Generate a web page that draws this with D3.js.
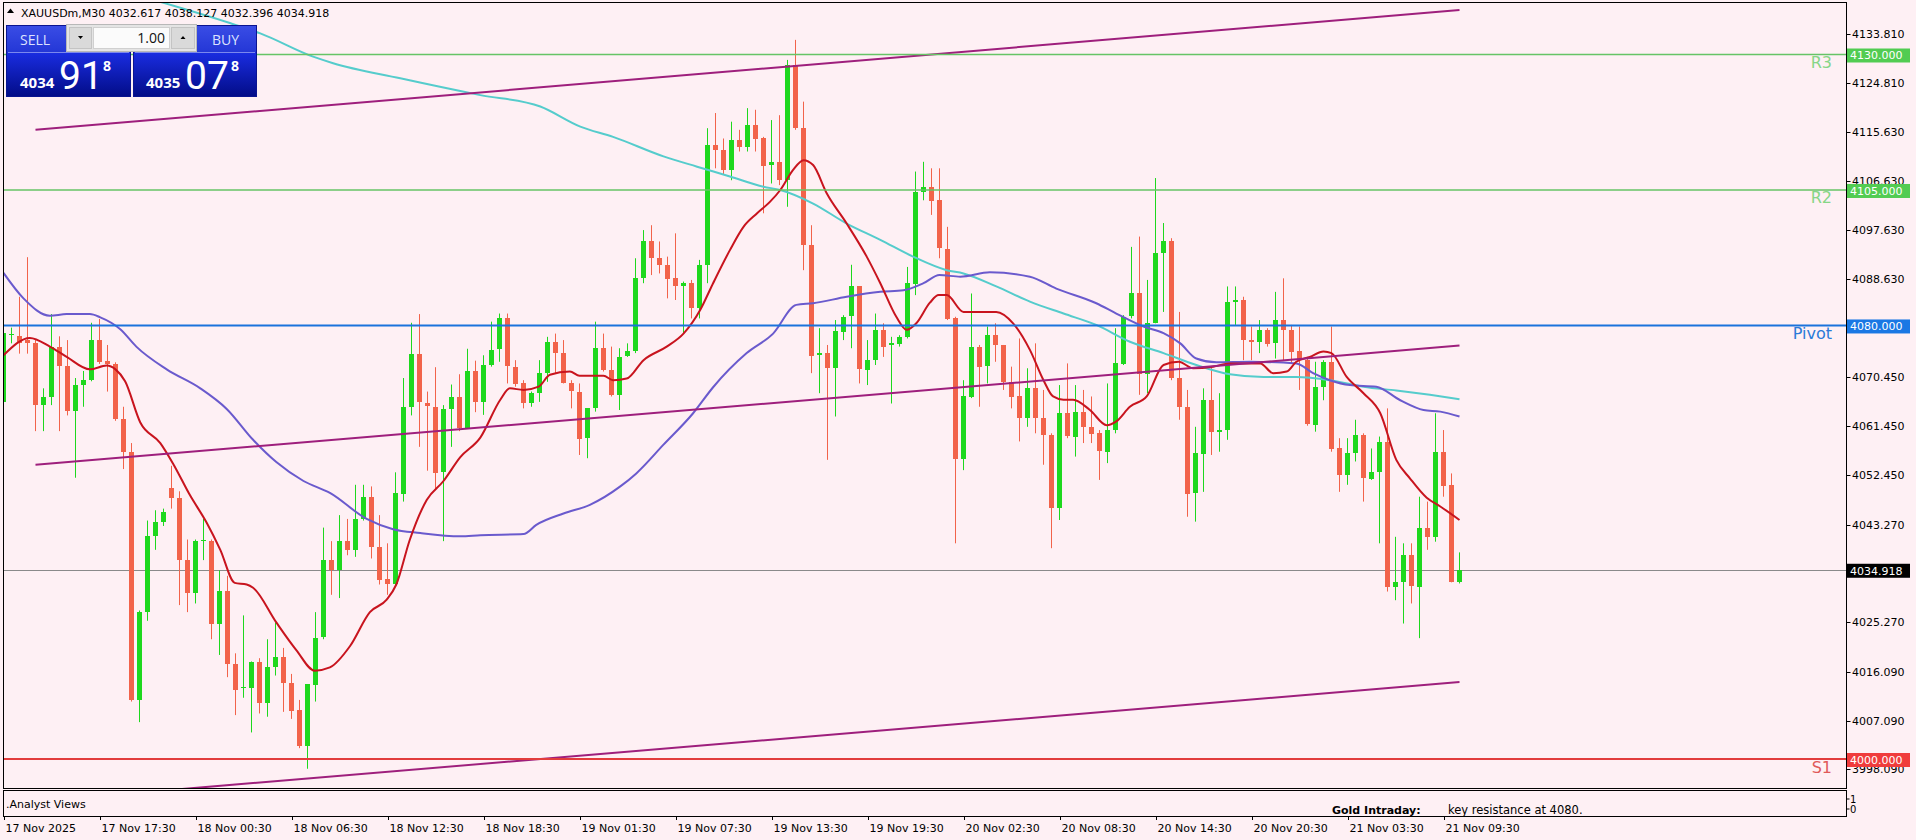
<!DOCTYPE html>
<html><head><meta charset="utf-8">
<script src="https://cdn.jsdelivr.net/npm/d3@7"></script>
<style>
html,body{margin:0;padding:0;background:#fef0f4;overflow:hidden;}
svg{display:block;font-family:"DejaVu Sans",sans-serif;}
</style></head><body>
<svg id="chart" width="1916" height="840"></svg>
<script>
// ---------------- DATA ----------------
const symbol = "XAUUSDm,M30";
const headerOHLC = ["4032.617", "4038.127", "4032.396", "4034.918"];
const opens = [4065.9,4078.3,4078.0,4077.3,4076.7,4065.3,4066.8,4076.1,4072.6,4064.3,4069.1,4070.0,4077.3,4073.5,4072.9,4062.7,4056.7,4010.9,4027.1,4041.1,
4043.7,4050.0,4048.1,4036.7,4030.6,4040.2,4040.2,4024.9,4031.0,4017.6,4013.1,4013.1,4017.9,4010.3,4017.0,4018.9,4014.1,4009.0,4002.4,4013.8,
4022.4,4036.7,4034.8,4040.2,4038.6,4044.3,4048.4,4039.2,4033.2,4032.2,4049.0,4065.0,4074.8,4065.6,4065.0,4052.9,4064.6,4066.8,4061.1,4071.6,
4065.9,4072.7,4075.5,4081.3,4072.4,4069.3,4065.6,4067.5,4071.2,4077.0,4074.9,4069.3,4067.8,4059.2,4064.7,4075.8,4071.8,4067.2,4074.2,4075.2,
4088.7,4095.5,4092.4,4091.2,4088.7,4087.2,4087.8,4083.2,4091.2,4113.3,4112.4,4108.7,4114.2,4113.0,4117.0,4114.5,4109.6,4110.2,4106.8,4128.1,
4116.4,4094.9,4074.5,4074.9,4072.1,4078.9,4081.6,4087.2,4071.8,4073.6,4079.2,4076.4,4076.7,4077.9,4087.8,4104.7,4105.6,4103.1,4094.2,4081.3,
4055.2,4066.9,4076.1,4072.4,4078.2,4076.4,4069.6,4066.9,4062.9,4068.4,4062.9,4059.8,4046.3,4063.8,4059.5,4064.1,4061.3,4060.1,4056.7,4060.7,
4073.0,4081.6,4085.9,4070.9,4080.4,4093.3,4095.5,4070.3,4065.0,4049.0,4056.4,4066.3,4060.4,4060.7,4084.4,4084.7,4077.3,4077.0,4079.2,4076.7,
4081.0,4079.2,4075.2,4073.6,4061.7,4068.7,4073.3,4057.3,4052.4,4056.4,4059.8,4051.8,4053.0,4058.5,4031.8,4032.7,4037.6,4031.8,4042.6,4041.0,
4056.7,4050.5,4032.617];
const highs = [4086.2,4079.6,4085.3,4092.6,4077.3,4068.4,4082.1,4078.0,4077.3,4070.3,4071.6,4080.5,4081.2,4076.4,4073.2,4065.0,4058.3,4027.4,4044.0,4045.9,
4046.2,4054.1,4049.4,4040.5,4040.5,4044.3,4040.5,4034.8,4033.8,4019.5,4026.5,4018.0,4018.6,4022.1,4025.2,4020.5,4015.7,4010.9,4013.8,4027.1,
4042.7,4040.2,4045.0,4044.3,4050.6,4050.6,4050.3,4045.0,4039.8,4052.9,4070.3,4080.5,4082.1,4067.8,4072.3,4065.3,4069.1,4071.0,4075.7,4073.5,
4074.5,4080.7,4082.2,4082.2,4073.6,4069.9,4067.8,4073.6,4077.9,4078.5,4077.3,4069.9,4069.3,4064.7,4080.7,4078.5,4076.1,4075.8,4076.7,4092.4,
4097.6,4098.5,4095.5,4092.7,4097.0,4088.1,4088.4,4092.1,4116.4,4119.2,4114.5,4117.6,4116.1,4120.1,4119.8,4114.8,4117.9,4118.8,4129.0,4132.7,
4121.3,4098.5,4079.5,4076.4,4081.0,4081.9,4091.2,4087.2,4077.3,4082.2,4080.4,4077.9,4078.2,4090.8,4108.4,4110.2,4109.0,4109.0,4098.2,4081.6,
4069.9,4085.9,4076.4,4079.8,4080.4,4076.4,4072.4,4077.6,4072.1,4076.7,4068.1,4060.1,4069.0,4073.0,4069.0,4068.1,4066.9,4060.7,4069.3,4079.5,
4081.9,4094.5,4096.4,4088.4,4107.2,4098.9,4096.1,4082.5,4068.1,4061.3,4068.4,4072.4,4067.5,4087.2,4087.2,4085.3,4079.8,4081.0,4079.5,4086.2,
4088.7,4080.1,4079.8,4074.2,4073.3,4073.6,4079.8,4059.2,4059.2,4062.6,4060.1,4057.3,4059.5,4064.7,4041.0,4039.8,4039.8,4048.4,4047.5,4063.8,
4060.7,4052.7,4038.127];
const lows = [4064.6,4076.7,4074.8,4074.8,4060.5,4060.5,4065.3,4060.5,4063.4,4051.9,4065.0,4069.7,4072.9,4067.8,4062.4,4053.5,4010.6,4006.8,4025.5,4038.6,
4043.0,4046.2,4028.4,4027.1,4028.7,4036.7,4022.1,4019.2,4015.1,4008.1,4011.3,4004.9,4008.4,4007.8,4015.4,4008.7,4007.4,4002.0,3998.2,4010.6,
4022.1,4030.3,4029.7,4037.6,4037.3,4044.0,4037.0,4032.2,4030.3,4031.9,4047.5,4063.4,4057.6,4053.2,4049.7,4040.2,4057.6,4060.5,4061.1,4064.0,
4063.5,4072.4,4073.3,4069.3,4068.7,4064.7,4065.0,4065.9,4069.6,4071.2,4069.3,4064.7,4056.1,4055.5,4064.1,4071.5,4066.9,4064.4,4074.2,4074.9,
4087.8,4089.3,4089.6,4085.0,4084.7,4078.5,4081.3,4081.3,4087.8,4109.0,4107.8,4106.8,4112.1,4112.1,4112.1,4100.7,4106.2,4105.9,4101.9,4116.1,
4090.2,4071.2,4067.5,4055.2,4063.2,4077.3,4075.8,4069.3,4069.0,4072.7,4074.2,4065.6,4076.1,4077.6,4085.6,4103.1,4100.4,4092.4,4081.0,4039.8,
4053.3,4066.6,4065.0,4069.3,4073.3,4068.1,4064.7,4058.6,4061.3,4060.1,4054.3,4038.9,4044.1,4059.2,4055.8,4058.3,4058.3,4051.5,4054.6,4060.1,
4072.7,4081.3,4067.2,4067.5,4080.4,4082.5,4069.9,4062.6,4044.7,4043.8,4049.3,4056.1,4056.7,4058.9,4080.1,4073.6,4073.6,4074.9,4076.1,4073.9,
4073.6,4073.0,4068.1,4061.5,4060.4,4066.2,4056.7,4049.3,4050.6,4054.9,4047.5,4051.5,4039.8,4030.9,4029.3,4025.0,4028.7,4022.3,4038.6,4040.1,
4048.4,4032.6,4032.396];
const closes = [4078.6,4078.5,4076.7,4076.7,4065.3,4066.8,4076.1,4072.6,4064.3,4069.1,4070.0,4077.3,4073.2,4072.9,4062.7,4056.7,4010.9,4027.1,4041.1,4043.7,
4045.6,4048.1,4036.7,4030.6,4040.2,4040.4,4024.9,4031.0,4017.6,4012.8,4013.3,4017.9,4010.3,4017.0,4018.9,4014.1,4009.0,4002.4,4013.8,4022.4,
4036.7,4034.8,4040.2,4038.6,4044.3,4048.4,4039.2,4033.2,4032.2,4049.0,4065.0,4074.8,4065.9,4065.0,4052.9,4064.6,4066.8,4061.1,4071.6,4065.9,
4072.7,4075.5,4081.3,4072.4,4069.3,4065.6,4067.5,4071.2,4077.0,4074.9,4069.3,4067.8,4059.2,4064.7,4075.8,4071.8,4067.2,4074.2,4075.2,4088.7,
4095.5,4092.4,4091.2,4088.7,4087.2,4087.8,4083.2,4091.2,4113.3,4112.4,4108.7,4114.2,4113.0,4117.0,4114.5,4109.3,4110.2,4106.8,4128.1,4116.4,
4094.9,4074.5,4074.9,4072.1,4078.9,4081.6,4087.2,4071.8,4073.6,4079.2,4076.1,4076.7,4077.9,4087.8,4104.7,4105.6,4103.1,4094.2,4081.3,4055.2,
4066.9,4076.1,4072.4,4078.2,4076.4,4069.6,4066.9,4062.9,4068.4,4062.9,4059.8,4046.3,4063.8,4059.5,4064.1,4061.3,4060.1,4056.7,4060.7,4073.0,
4081.6,4085.9,4070.9,4080.4,4093.3,4095.5,4070.3,4065.0,4049.0,4056.4,4066.3,4060.4,4060.7,4084.4,4084.7,4077.3,4077.0,4079.2,4076.7,4081.0,
4079.2,4075.2,4073.6,4061.7,4068.7,4073.3,4057.3,4052.4,4056.4,4059.8,4051.8,4053.0,4058.5,4031.8,4032.7,4037.6,4031.8,4042.6,4041.0,4056.7,
4050.5,4032.6,4034.918];

// moving averages: [bar index, price]
const maFast = [[0,4074.5],[3.3,4077.7],[5.8,4076.1],[7.9,4074.2],[10.8,4071.9],[12.9,4072.6],[14,4071.9],[15.2,4069.7],[17.1,4062.1],[19.6,4058.3],
[21.2,4054.5],[23.3,4048.7],[25.4,4043.6],[27.1,4038.6],[28.9,4032.5],[30.4,4032.2],[31.2,4031.6],[34.1,4025.2],[36.6,4020.1],[38.9,4016.3],
[40.8,4016.9],[43.3,4020.8],[45.8,4027.1],[47.9,4029.4],[49.1,4032.2],[50.8,4040.5],[52.9,4047.8],[55,4051.3],[57.1,4055.7],[59.6,4059.3],
[62.1,4066.3],[63.3,4068.4],[65,4068.1],[66.9,4068.7],[68.3,4070.9],[70.8,4071.5],[72,4070.7],[75,4070.7],[76.2,4069.9],[77.9,4070.2],
[80,4073.6],[82.9,4076.1],[85,4078.5],[87.1,4082.9],[88.7,4087.8],[90.8,4093.9],[92.5,4098.2],[94.2,4100.7],[95.8,4102.8],[97.1,4105.0],
[98.7,4108.7],[100,4110.5],[101.2,4109.6],[102.9,4104.4],[105.4,4098.8],[107.9,4092.7],[109.6,4087.8],[111.6,4081.6],[112.9,4079.2],[114.1,4080.4],
[115.8,4084.2],[116.9,4085.6],[117.9,4085.6],[120,4082.5],[124.1,4082.5],[126.2,4080.4],[128.3,4075.5],[130,4069.9],[131.2,4066.9],[132.5,4066.3],
[133.7,4066.3],[135.8,4064.4],[137.9,4061.6],[139.1,4062.3],[140.8,4065.0],[142.9,4066.9],[145,4072.7],[146.9,4073.3],[148.7,4072.1],[151.2,4072.4],
[153.3,4073.0],[157.1,4073.0],[158.7,4071.2],[160.4,4071.5],[161.6,4073.3],[163.3,4074.2],[165,4075.2],[166,4074.9],[167.9,4070.5],[170,4067.5],
[172.1,4063.8],[174.1,4055.2],[175.8,4051.8],[177.9,4048.2],[179.6,4046.6],[182,4044.1]];
const maMid = [[0,4089.7],[2.5,4085.0],[5.8,4081.8],[7.9,4082.1],[10.8,4082.1],[12.1,4081.5],[14.6,4079.3],[16.6,4076.1],[20.4,4071.9],[24.6,4068.4],
[27.9,4064.6],[31.2,4058.9],[34.1,4054.8],[37.5,4051.3],[40.8,4049.1],[45.4,4044.3],[48.7,4042.4],[52.1,4041.7],[57.1,4041.1],[59.6,4041.3],
[65,4041.5],[66.6,4043.2],[70,4045.3],[73.3,4046.9],[77.1,4050.3],[79.1,4052.7],[82.5,4058.0],[86.2,4063.8],[88.7,4068.6],[92.9,4074.9],
[96.2,4078.5],[99.1,4083.8],[101.2,4084.1],[105.4,4085.3],[109.6,4086.2],[112.5,4086.5],[115,4087.8],[117,4089.3],[119.6,4089.0],[123.3,4089.8],
[128.3,4089.0],[131.6,4086.8],[136.6,4084.1],[139.1,4082.2],[142.5,4079.8],[145,4078.6],[147.1,4076.7],[149.1,4073.9],[151.6,4073.2],[155.8,4073.3],
[161.6,4073.0],[163.7,4071.2],[165.8,4069.9],[168.3,4069.0],[171.6,4068.7],[174.6,4066.2],[177.5,4064.4],[179.6,4064.1],[182,4063.2]];
const maSlow = [[18.7,4140.1],[28.3,4135.8],[32.1,4133.9],[38.7,4129.6],[41.2,4128.4],[49.6,4125.6],[59.6,4122.5],[67.1,4120.4],[72.1,4116.7],[76.2,4114.8],
[82.5,4111.2],[86.7,4109.3],[90.8,4107.5],[95,4105.6],[97.1,4105.0],[101.2,4102.5],[105.4,4098.8],[109.6,4095.8],[113.7,4092.7],[117.9,4090.2],
[120,4089.6],[124.1,4087.2],[128.3,4084.4],[132.5,4082.2],[136.6,4080.1],[140.8,4077.0],[145,4074.9],[149.1,4072.7],[153.3,4071.0],[157.5,4070.5],
[161.6,4070.5],[165.8,4069.9],[170,4068.7],[174.1,4068.0],[178.3,4067.2],[182,4066.4]];

// price channel (start bar, end bar) and its three lines
const channelBars = [4, 182];
const channelUpper = [4116.1, 4138.2];
const channelMiddle = [4054.3, 4076.3];
const channelLower = [3992.2, 4014.2];

// pivot levels
const levelNames = ["R3", "R2", "Pivot", "S1"];
const levelValues = [4130, 4105, 4080, 4000];
const lastPrice = 4034.918;

// axis ticks
const priceTicks = [4133.810, 4124.810, 4115.630, 4106.630, 4097.630, 4088.630, 4070.450, 4061.450, 4052.450, 4043.270, 4025.270, 4016.090, 4007.090, 3998.090];
const timeTickBars = [0, 12, 24, 36, 48, 60, 72, 84, 96, 108, 120, 132, 144, 156, 168, 180];
const timeTickLabels = ["17 Nov 2025", "17 Nov 17:30", "18 Nov 00:30", "18 Nov 06:30", "18 Nov 12:30", "18 Nov 18:30", "19 Nov 01:30", "19 Nov 07:30",
  "19 Nov 13:30", "19 Nov 19:30", "20 Nov 02:30", "20 Nov 08:30", "20 Nov 14:30", "20 Nov 20:30", "21 Nov 03:30", "21 Nov 09:30"];

// trade panel
const bidParts = ["4034", "91", "8"];
const askParts = ["4035", "07", "8"];
const lotSize = "1.00";
const subWindowName = ".Analyst Views";
const subTicks = ["1", "0"];
const noteTitle = "Gold Intraday:";
const noteText = "key resistance at 4080.";

// ---------------- STYLE ----------------
const C = {
  bg: "#fef0f4", bull: "#1ed81e", bear: "#f2634a",
  fast: "#c8141e", mid: "#6a5acd", slow: "#55cccc", channel: "#9e1f7c",
  levelLine: ["#66c466", "#66c466", "#1a73dc", "#e23c3c"],
  levelText: ["#86d686", "#86d686", "#2a7ad8", "#e05a5a"],
  levelBox: ["#52cc52", "#52cc52", "#1a78e4", "#f03c3c"]
};
const panel = {l: 3, r: 1846, t: 2, b: 788};
const sub = {t: 790, b: 816};
const barSpacing = 8;

const svg = d3.select("#chart");
svg.append("rect").attr("width", 1916).attr("height", 840).attr("fill", C.bg);

const x = d3.scaleLinear().domain([0, (panel.r - panel.l) / barSpacing]).range([panel.l + 0.5, panel.r + 0.5]);
const y = d3.scaleLinear().domain([4000, 4130]).range([759, 54.5]);

const defs = svg.append("defs");
defs.append("clipPath").attr("id", "clipMain").append("rect")
  .attr("x", panel.l + 0.5).attr("y", panel.t + 0.5).attr("width", panel.r - panel.l - 0.5).attr("height", panel.b - panel.t - 0.5);

const main = svg.append("g").attr("clip-path", "url(#clipMain)");

// bid line (behind)
main.append("line").attr("x1", panel.l).attr("x2", panel.r)
  .attr("y1", Math.round(y(lastPrice)) + 0.5).attr("y2", Math.round(y(lastPrice)) + 0.5)
  .attr("stroke", "#8a8a8a").attr("stroke-width", 1);

// candles
const candles = opens.map((o, i) => ({i, o, h: highs[i], l: lows[i], c: closes[i]}));
main.selectAll("line.wick").data(candles).join("line").attr("class", "wick")
  .attr("x1", d => x(d.i)).attr("x2", d => x(d.i))
  .attr("y1", d => y(d.h)).attr("y2", d => y(d.l))
  .attr("stroke", d => d.c >= d.o ? C.bull : C.bear).attr("stroke-width", 1);
main.selectAll("rect.body").data(candles).join("rect").attr("class", "body")
  .attr("x", d => x(d.i) - 2.5).attr("width", 5)
  .attr("y", d => Math.round(y(Math.max(d.o, d.c))))
  .attr("height", d => Math.max(1, Math.round(Math.abs(y(d.o) - y(d.c)))))
  .attr("fill", d => d.c >= d.o ? C.bull : C.bear);

// moving averages
const maLine = d3.line().x(d => x(d[0])).y(d => y(d[1])).curve(d3.curveMonotoneX);
[[maSlow, C.slow], [maMid, C.mid], [maFast, C.fast]].forEach(([data, col]) => {
  main.append("path").attr("d", maLine(data)).attr("fill", "none").attr("stroke", col).attr("stroke-width", 2);
});

// channel
const chLine = d3.line().x(d => x(d[0])).y(d => y(d[1]));
[channelUpper, channelMiddle, channelLower].forEach(vals => {
  main.append("path").attr("d", chLine(channelBars.map((b, j) => [b, vals[j]])))
    .attr("fill", "none").attr("stroke", C.channel).attr("stroke-width", 2);
});

// level lines and names
levelValues.forEach((v, j) => {
  const yy = y(v);
  main.append("line").attr("x1", panel.l).attr("x2", panel.r).attr("y1", yy).attr("y2", yy)
    .attr("stroke", C.levelLine[j]).attr("stroke-width", j < 2 ? 1.6 : 2);
  main.append("text").attr("x", 1832).attr("y", yy + 13.5).attr("text-anchor", "end")
    .attr("font-size", 16).attr("fill", C.levelText[j]).text(levelNames[j]);
});

// frames
const frame = svg.append("g").attr("fill", "none").attr("stroke", "#000").attr("stroke-width", 1);
frame.append("rect").attr("x", panel.l + 0.5).attr("y", panel.t + 0.5).attr("width", panel.r - panel.l).attr("height", panel.b - panel.t);
frame.append("rect").attr("x", panel.l + 0.5).attr("y", sub.t + 0.5).attr("width", panel.r - panel.l).attr("height", sub.b - sub.t);

// price axis
const axisG = svg.append("g");
priceTicks.forEach(v => {
  const yy = Math.round(y(v)) + 0.5;
  axisG.append("line").attr("x1", panel.r + 0.5).attr("x2", panel.r + 4.5).attr("y1", yy).attr("y2", yy).attr("stroke", "#000");
  axisG.append("text").attr("x", panel.r + 6).attr("y", yy).attr("dy", "0.36em").attr("font-size", 11).attr("fill", "#000").text(v.toFixed(3));
});
function priceBox(v, col) {
  const yy = y(v) + 1;
  axisG.append("rect").attr("x", panel.r + 1).attr("y", yy - 7).attr("width", 63).attr("height", 14).attr("fill", col);
  axisG.append("text").attr("x", panel.r + 4).attr("y", yy).attr("dy", "0.36em").attr("font-size", 11).attr("fill", "#fff").text(v.toFixed(3));
}
levelValues.forEach((v, j) => priceBox(v, C.levelBox[j]));
priceBox(lastPrice, "#000");

// sub-window scale
subTicks.forEach((t, j) => {
  const yy = sub.t + 9 + j * 10;
  axisG.append("line").attr("x1", panel.r + 0.5).attr("x2", panel.r + 3.5).attr("y1", yy).attr("y2", yy).attr("stroke", "#000");
  axisG.append("text").attr("x", panel.r + 4).attr("y", yy).attr("dy", "0.36em").attr("font-size", 10).attr("fill", "#000").text(t);
});

// time axis
timeTickBars.forEach((b, j) => {
  const xx = Math.round(x(b)) + 0.5;
  axisG.append("line").attr("x1", xx).attr("x2", xx).attr("y1", sub.b).attr("y2", sub.b + 4).attr("stroke", "#000");
  axisG.append("text").attr("x", xx + 1).attr("y", 832).attr("font-size", 11).attr("fill", "#000").text(timeTickLabels[j]);
});

// sub-window texts
svg.append("text").attr("x", 6).attr("y", 808).attr("font-size", 11).attr("fill", "#000").text(subWindowName);
svg.append("text").attr("x", 1332).attr("y", 814).attr("font-size", 11).attr("font-weight", "bold").attr("fill", "#000").text(noteTitle);
svg.append("text").attr("x", 1448).attr("y", 814).attr("font-size", 11.5).attr("fill", "#000").text(noteText);

// header
svg.append("path").attr("d", "M7,13 L10.5,8.5 L14,13 Z").attr("fill", "#000");
svg.append("text").attr("x", 21).attr("y", 16.5).attr("font-size", 11).attr("fill", "#000")
  .text(symbol + "  " + headerOHLC.join(" "));

// one-click trading panel
const gTop = defs.append("linearGradient").attr("id", "gTop").attr("x1", 0).attr("x2", 0).attr("y1", 0).attr("y2", 1);
gTop.append("stop").attr("offset", 0).attr("stop-color", "#3a4de6");
gTop.append("stop").attr("offset", 1).attr("stop-color", "#2437d6");
const gBot = defs.append("linearGradient").attr("id", "gBot").attr("x1", 0).attr("x2", 0).attr("y1", 0).attr("y2", 1);
gBot.append("stop").attr("offset", 0).attr("stop-color", "#1a2de2");
gBot.append("stop").attr("offset", 1).attr("stop-color", "#020c86");

const tp = svg.append("g");
function sideBox(x0, w, label, labelX, parts, px) {
  tp.append("rect").attr("x", x0).attr("y", 25).attr("width", w).attr("height", 27).attr("fill", "url(#gTop)");
  tp.append("rect").attr("x", x0).attr("y", 52).attr("width", w).attr("height", 45).attr("fill", "url(#gBot)");
  tp.append("line").attr("x1", x0 + 2).attr("x2", x0 + w - 2).attr("y1", 52.5).attr("y2", 52.5).attr("stroke", "#7b88ee").attr("stroke-width", 1);
  tp.append("rect").attr("x", x0 + 0.5).attr("y", 25.5).attr("width", w - 1).attr("height", 71).attr("fill", "none").attr("stroke", "#0a1490");
  tp.append("text").attr("x", labelX).attr("y", 45).attr("font-size", 14).attr("font-family", "'Open Sans',sans-serif").attr("fill", "#dde3ff").text(label);
  tp.append("text").attr("x", px[0]).attr("y", 87.5).attr("font-size", 15).attr("font-weight", "bold").attr("font-family", "'Open Sans',sans-serif").attr("fill", "#fff").text(parts[0]);
  tp.append("text").attr("x", px[1]).attr("y", 88.5).attr("font-size", 39).attr("font-family", "Roboto,sans-serif").attr("fill", "#fff").text(parts[1]);
  tp.append("text").attr("x", px[2]).attr("y", 70.5).attr("font-size", 14).attr("font-weight", "bold").attr("font-family", "'Open Sans',sans-serif").attr("fill", "#fff").text(parts[2]);
}
sideBox(6, 125, "SELL", 20, bidParts, [20, 59, 103]);
sideBox(133, 124, "BUY", 212, askParts, [146, 185, 231]);
// lot box
tp.append("rect").attr("x", 66.5).attr("y", 24.5).attr("width", 130).attr("height", 27).attr("fill", "#e4e4e4").attr("stroke", "#b8b8b8");
tp.append("rect").attr("x", 69.5).attr("y", 27.5).attr("width", 22).attr("height", 21).attr("fill", "#dadada").attr("stroke", "#c4c4c4");
tp.append("rect").attr("x", 93.5).attr("y", 27.5).attr("width", 76).attr("height", 21).attr("fill", "#fbfbfb").attr("stroke", "#d0d0d0");
tp.append("rect").attr("x", 171.5).attr("y", 27.5).attr("width", 23).attr("height", 21).attr("fill", "#dadada").attr("stroke", "#c4c4c4");
tp.append("path").attr("d", "M78,36 L83,36 L80.5,39 Z").attr("fill", "#000");
tp.append("path").attr("d", "M180.5,39 L185.5,39 L183,36 Z").attr("fill", "#000");
tp.append("text").attr("x", 165).attr("y", 43).attr("text-anchor", "end").attr("font-size", 14)
  .attr("font-family", "'Open Sans',sans-serif").attr("fill", "#111").text(lotSize);
</script>
</body></html>
